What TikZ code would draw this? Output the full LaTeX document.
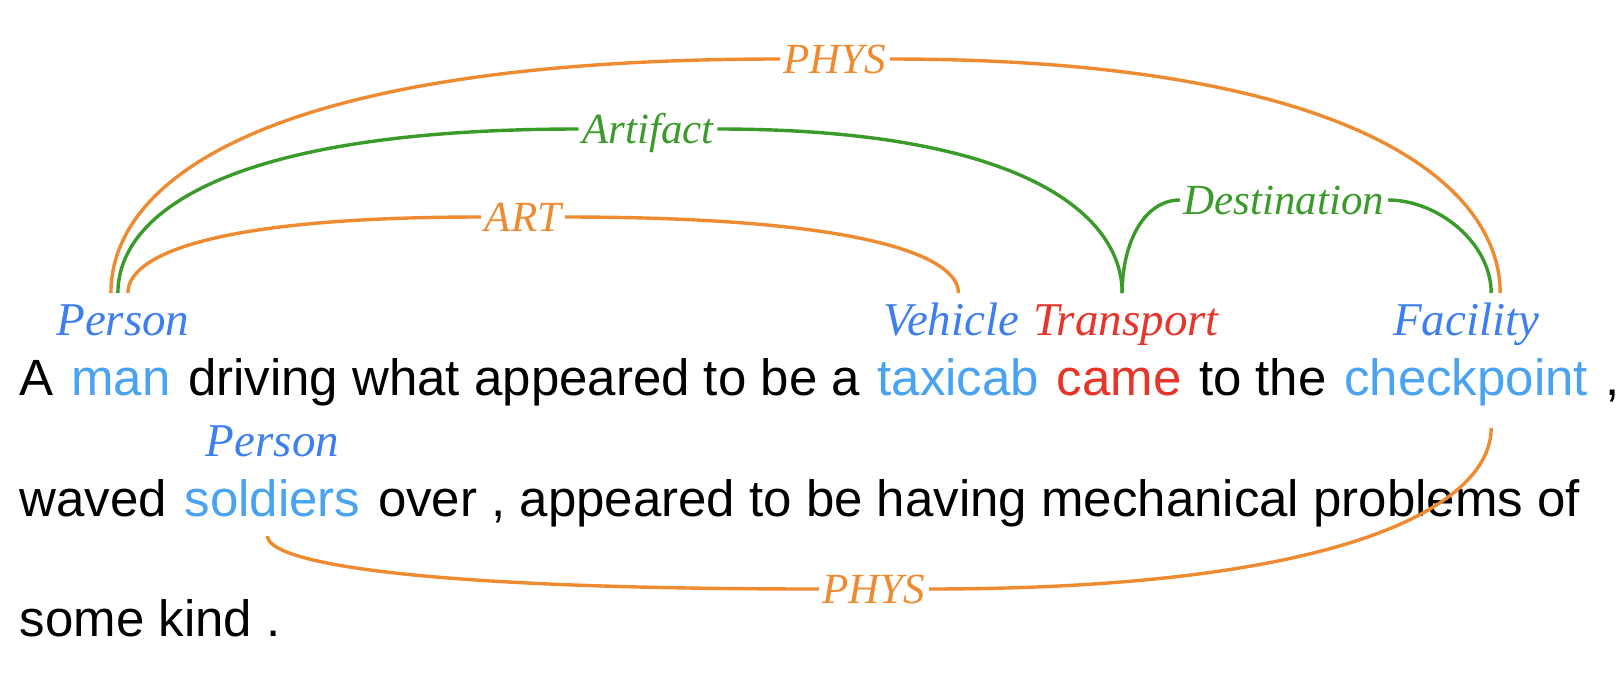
\documentclass[tikz,border=0pt]{standalone}
\usepackage{fontspec}
\setmainfont{Liberation Serif}
\setsansfont{Liberation Sans}
\usetikzlibrary{positioning}

\definecolor{wordblue}{RGB}{74,163,240}
\definecolor{typeblue}{RGB}{61,126,240}
\definecolor{trigred}{RGB}{232,53,42}
\definecolor{relorange}{RGB}{238,138,48}
\definecolor{rolegreen}{RGB}{58,154,42}

\begin{document}
\begin{tikzpicture}[node distance=7.09pt, line width=1.7pt]
    \tikzstyle{word} = [inner sep=0pt, font=\sffamily\fontsize{25.5}{31}\selectfont]
    \tikzstyle{entity} = [word, text=wordblue]
    \tikzstyle{trigger} = [word, text=trigred]
    \tikzstyle{etype} = [inner sep=0pt, anchor=base, text=typeblue, font=\itshape\fontsize{23.5}{28}\selectfont]
    \tikzstyle{ttype} = [etype, text=trigred]
    \tikzstyle{rel} = [inner sep=1pt, text height=14pt, text depth=0pt, text=relorange, font=\itshape\fontsize{21.5}{26}\selectfont]
    \tikzstyle{role} = [rel, text=rolegreen]
    \tikzstyle{relarc} = [draw=relorange]
    \tikzstyle{rolearc} = [draw=rolegreen]

    \useasboundingbox (0,0) rectangle (812pt,-346pt);

    % First line
    \node [word, anchor=base west] (w1) at (9pt,-197.5pt) {A};
    \node [entity, base right=of w1] (man) {man};
    \node [word, base right=of man] (w3) {driving what appeared to be a};
    \node [entity, base right=of w3] (taxicab) {taxicab};
    \node [trigger, base right=of taxicab] (came) {came};
    \node [word, base right=of came] (w6) {to the};
    \node [entity, base right=of w6] (checkpoint) {checkpoint};
    \node [word, base right=of checkpoint] (w8) {,};

    % Second line
    \node [word, anchor=base west] (w9) at (9pt,-258pt) {waved};
    \node [entity, base right=of w9] (soldiers) {soldiers};
    \node [word, base right=of soldiers] (w11) {over , appeared to be having mechanical problems of};

    % Third line
    \node [word, anchor=base west] (w12) at (9pt,-318pt) {some kind .};

    % Types
    \node [etype] (lman) at ([xshift=1pt,yshift=30pt]man.base) {Person};
    \node [etype] (ltaxi) at ([xshift=-3.5pt,yshift=30pt]taxicab.base) {Vehicle};
    \node [ttype] (lcame) at ([xshift=3.5pt,yshift=30pt]came.base) {Transport};
    \node [etype] (lcheck) at ([yshift=30pt]checkpoint.base) {Facility};
    \node [etype] (lsold) at ([yshift=30pt]soldiers.base) {Person};

    % Arc labels
    \node [rel] (physA) at (417.5pt,-29.5pt) {PHYS};
    \node [role] (artifact) at (324pt,-64.5pt) {Artifact};
    \node [rel] (art) at (261.5pt,-108.5pt) {ART};
    \node [role] (dest) at (642pt,-100pt) {Destination};
    \node [rel] (physB) at (437pt,-294.5pt) {PHYS};

    % Arcs above the first line
    \draw [relarc] ([xshift=-6pt,yshift=21pt]lman.base) to[out=90, in=180, out distance=55pt, in distance=260pt] (physA.west);
    \draw [relarc] (physA.east) to[out=0, in=90, out distance=230pt, in distance=55pt] ([xshift=17pt,yshift=21pt]lcheck.base);
    \draw [rolearc] ([xshift=-2.5pt,yshift=21pt]lman.base) to[out=90, in=180, out distance=38pt, in distance=180pt] (artifact.west);
    \draw [rolearc] (artifact.east) to[out=0, in=90, out distance=155pt, in distance=38pt] ([xshift=-2pt,yshift=21pt]lcame.base);
    \draw [relarc] ([xshift=2.5pt,yshift=21pt]lman.base) to[out=90, in=180, out distance=18pt, in distance=138pt] (art.west);
    \draw [relarc] (art.east) to[out=0, in=90, out distance=151pt, in distance=18pt] ([xshift=3.5pt,yshift=21pt]ltaxi.base);
    \draw [rolearc] ([xshift=-2pt,yshift=21pt]lcame.base) to[out=90, in=180, out distance=25pt, in distance=18pt] (dest.west);
    \draw [rolearc] (dest.east) to[out=0, in=90, out distance=25pt, in distance=25pt] ([xshift=12.5pt,yshift=21pt]lcheck.base);

    % Arc across the lines
    \draw [relarc] ([xshift=12.5pt,yshift=-16.5pt]checkpoint.base) to[out=-90, in=0, out distance=38pt, in distance=210pt] (physB.east);
    \draw [relarc] (physB.west) to[out=180, in=-90, out distance=215pt, in distance=12pt] ([xshift=-2.5pt,yshift=-10pt]soldiers.base);
\end{tikzpicture}
\end{document}
